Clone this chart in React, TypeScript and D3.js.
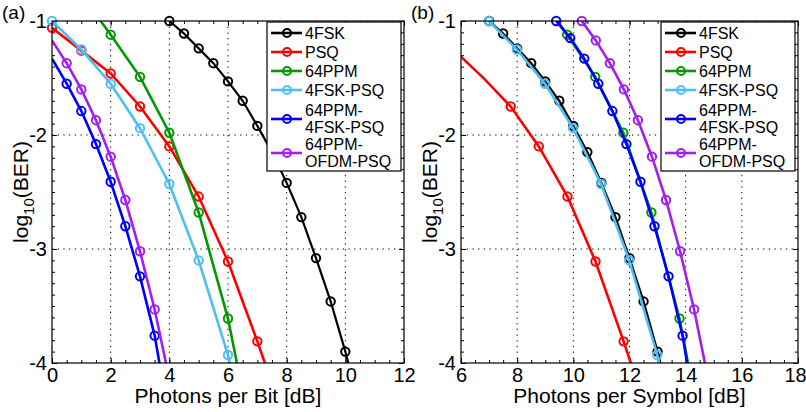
import { useEffect, useRef } from "react";
import * as d3 from "d3";

// legend / series order
const seriesNames = [
  ["4FSK"],
  ["PSQ"],
  ["64PPM"],
  ["4FSK-PSQ"],
  ["64PPM-", "4FSK-PSQ"],
  ["64PPM-", "OFDM-PSQ"],
];
const seriesColors = ["#000000", "#ff0000", "#009900", "#4dbff5", "#0000ff", "#a020f0"];

// (a) photons per bit [dB]
const bitFskX = [4, 4.5, 5, 5.5, 6, 6.5, 7, 7.5, 8, 8.5, 9, 9.5, 10, 10.5];
const bitFskY = [-1.0, -1.11, -1.24, -1.37, -1.53, -1.7, -1.92, -2.15, -2.42, -2.72, -3.08, -3.46, -3.9, -4.4];
const bitPsqX = [0, 1, 2, 3, 4, 5, 6, 7, 8];
const bitPsqY = [-1.06, -1.26, -1.46, -1.75, -2.1, -2.54, -3.11, -3.81, -4.55];
const bitPpmX = [1, 2, 3, 4, 5, 6, 7];
const bitPpmY = [-0.77, -1.12, -1.49, -1.98, -2.68, -3.61, -4.9];
const bitFskPsqX = [0, 1, 2, 3, 4, 5, 6, 7];
const bitFskPsqY = [-1.0, -1.25, -1.55, -1.94, -2.43, -3.1, -3.93, -5.0];
const bitPpmFskX = [0, 0.5, 1, 1.5, 2, 2.5, 3, 3.5, 4];
const bitPpmFskY = [-1.33, -1.55, -1.79, -2.08, -2.41, -2.8, -3.24, -3.76, -4.5];
const bitPpmOfdmX = [0, 0.5, 1, 1.5, 2, 2.5, 3, 3.5, 4];
const bitPpmOfdmY = [-1.17, -1.37, -1.6, -1.87, -2.19, -2.57, -3.02, -3.53, -4.14];

// (b) photons per symbol [dB]
const symFskX = [7, 7.5, 8, 8.5, 9, 9.5, 10, 10.5, 11, 11.5, 12, 12.5, 13, 13.5];
const symFskY = [-1.0, -1.11, -1.24, -1.37, -1.53, -1.7, -1.92, -2.15, -2.42, -2.72, -3.08, -3.46, -3.9, -4.4];
const symPsqX = [5.77, 6.84, 7.77, 8.77, 9.79, 10.79, 11.79, 12.79];
const symPsqY = [-1.26, -1.51, -1.75, -2.1, -2.54, -3.11, -3.81, -4.55];
const symPpmX = [8.78, 9.78, 10.78, 11.78, 12.78, 13.78, 14.78];
const symPpmY = [-0.77, -1.12, -1.49, -1.98, -2.68, -3.61, -4.9];
const symFskPsqX = [6.99, 7.99, 8.99, 9.99, 10.99, 11.99, 12.99, 13.99];
const symFskPsqY = [-1.0, -1.25, -1.55, -1.94, -2.43, -3.1, -3.93, -5.0];
const symPpmFskX = [9.39, 9.89, 10.39, 10.89, 11.39, 11.89, 12.39, 12.89, 13.39, 13.89, 14.39];
const symPpmFskY = [-1.0, -1.15, -1.33, -1.55, -1.79, -2.08, -2.41, -2.8, -3.24, -3.76, -4.5];
const symPpmOfdmX = [10.3, 10.8, 11.3, 11.8, 12.3, 12.8, 13.3, 13.8, 14.3, 14.8];
const symPpmOfdmY = [-1.0, -1.17, -1.37, -1.6, -1.87, -2.19, -2.57, -3.02, -3.53, -4.14];

// points drawn without a circle
const bitNoMark = [[], [], [], [], [0], [0]];
const symNoMark = [[], [6.84], [], [], [], []];

const yTickValues = [-4, -3, -2, -1];
const FONT = "'Liberation Sans', Arial, Helvetica, sans-serif";

type Panel = {
  tag: string;
  left: number;
  right: number;
  xDomain: [number, number];
  xs: number[][];
  ys: number[][];
  noMark: number[][];
  xLabel: string;
};

const TOP = 21;
const BOTTOM = 363;

function drawPanel(svg: d3.Selection<SVGSVGElement, unknown, null, undefined>, p: Panel, idx: number) {
  const x = d3.scaleLinear().domain(p.xDomain).range([p.left, p.right]);
  const y = d3.scaleLinear().domain([-4, -1]).range([BOTTOM, TOP]);
  const g = svg.append("g").attr("font-family", FONT);

  const xMajor = d3.range(p.xDomain[0], p.xDomain[1] + 0.01, 2);
  const xMinor = d3.range(p.xDomain[0], p.xDomain[1] + 0.01, 0.5);
  const yMinor = d3.range(-4, -0.99, 0.1).map((v) => Math.round(v * 10) / 10);

  // dotted grid
  g.selectAll(".gx")
    .data(xMajor.slice(1, -1))
    .join("line")
    .attr("x1", (d) => x(d))
    .attr("x2", (d) => x(d))
    .attr("y1", TOP)
    .attr("y2", BOTTOM)
    .attr("stroke", "#000")
    .attr("stroke-width", 1)
    .attr("stroke-dasharray", "1.3,4.4");
  g.selectAll(".gy")
    .data(yTickValues.slice(1, -1))
    .join("line")
    .attr("x1", p.left)
    .attr("x2", p.right)
    .attr("y1", (d) => y(d))
    .attr("y2", (d) => y(d))
    .attr("stroke", "#000")
    .attr("stroke-width", 1)
    .attr("stroke-dasharray", "1.3,4.4");

  // minor ticks, all four sides
  const minor = (axis: any, tr: string) =>
    g.append("g").attr("transform", tr).call(axis).call((a) => a.select(".domain").remove());
  minor(d3.axisBottom(x).tickValues(xMinor).tickSize(-3).tickFormat(() => ""), `translate(0,${BOTTOM})`);
  minor(d3.axisTop(x).tickValues(xMinor).tickSize(-3).tickFormat(() => ""), `translate(0,${TOP})`);
  minor(d3.axisLeft(y).tickValues(yMinor).tickSize(-3).tickFormat(() => ""), `translate(${p.left},0)`);
  minor(d3.axisRight(y).tickValues(yMinor).tickSize(-3).tickFormat(() => ""), `translate(${p.right},0)`);
  minor(d3.axisTop(x).tickValues(xMajor).tickSize(-5).tickFormat(() => ""), `translate(0,${TOP})`);
  minor(d3.axisRight(y).tickValues(yTickValues).tickSize(-5).tickFormat(() => ""), `translate(${p.right},0)`);

  // labelled axes
  const xa = g
    .append("g")
    .attr("transform", `translate(0,${BOTTOM})`)
    .call(d3.axisBottom(x).tickValues(xMajor).tickSize(-5).tickPadding(5).tickFormat((d) => String(d)));
  xa.select(".domain").remove();
  xa.selectAll("text").attr("font-size", 20).attr("font-family", FONT).attr("fill", "#000");
  // keep the last label inside the page
  xa.selectAll<SVGTextElement, number>("text")
    .filter((d) => d === p.xDomain[1])
    .attr("dx", idx === 1 ? -3 : 0);

  const ya = g
    .append("g")
    .attr("transform", `translate(${p.left},0)`)
    .call(d3.axisLeft(y).tickValues(yTickValues).tickSize(-5).tickPadding(5).tickFormat((d) => String(d)));
  ya.select(".domain").remove();
  ya.selectAll("text").attr("font-size", 20).attr("font-family", FONT).attr("fill", "#000");
  g.selectAll(".tick line").attr("stroke", "#000");

  // curves
  const clipId = `clip${idx}`;
  svg
    .append("clipPath")
    .attr("id", clipId)
    .append("rect")
    .attr("x", p.left)
    .attr("y", TOP)
    .attr("width", p.right - p.left)
    .attr("height", BOTTOM - TOP);

  const line = d3
    .line<[number, number]>()
    .x((d) => x(d[0]))
    .y((d) => y(d[1]));

  p.xs.forEach((xs, i) => {
    const pts = xs.map((v, j) => [v, p.ys[i][j]] as [number, number]);
    g.append("path")
      .attr("clip-path", `url(#${clipId})`)
      .attr("d", line(pts))
      .attr("fill", "none")
      .attr("stroke", seriesColors[i])
      .attr("stroke-width", i === 0 ? 2.2 : 2.6);
    const inside = pts.filter(
      (d) =>
        d[0] >= p.xDomain[0] - 1e-6 &&
        d[0] <= p.xDomain[1] + 1e-6 &&
        d[1] >= -4 - 1e-6 &&
        d[1] <= -1 + 1e-6 &&
        !p.noMark[i].includes(d[0])
    );
    g.selectAll(`.m${i}`)
      .data(inside)
      .join("circle")
      .attr("cx", (d) => x(d[0]))
      .attr("cy", (d) => y(d[1]))
      .attr("r", 4.2)
      .attr("fill", "none")
      .attr("stroke", seriesColors[i])
      .attr("stroke-width", 2);
  });

  // axes box
  g.append("rect")
    .attr("x", p.left)
    .attr("y", TOP)
    .attr("width", p.right - p.left)
    .attr("height", BOTTOM - TOP)
    .attr("fill", "none")
    .attr("stroke", "#000")
    .attr("stroke-width", 1.2);

  // legend
  const lx = p.right - 137;
  const ly = TOP + 1;
  const lg = g.append("g").attr("transform", `translate(${lx},${ly})`);
  lg.append("rect")
    .attr("width", 134)
    .attr("height", 149)
    .attr("fill", "#fff")
    .attr("stroke", "#000")
    .attr("stroke-width", 1.2);
  const rowY = [11, 30, 49, 68, 97, 131];
  const lineGap = 16.5;
  seriesNames.forEach((lines, i) => {
    const ry = rowY[i];
    lg.append("line")
      .attr("x1", 4)
      .attr("x2", 35)
      .attr("y1", ry)
      .attr("y2", ry)
      .attr("stroke", seriesColors[i])
      .attr("stroke-width", 2.6);
    lg.append("circle")
      .attr("cx", 20)
      .attr("cy", ry)
      .attr("r", 4)
      .attr("fill", "none")
      .attr("stroke", seriesColors[i])
      .attr("stroke-width", 2);
    lines.forEach((s, k) => {
      lg.append("text")
        .attr("x", 38)
        .attr("y", ry + (k - (lines.length - 1) / 2) * lineGap)
        .attr("font-size", 16)
        .attr("dominant-baseline", "central")
        .text(s);
    });
  });

  // axis labels
  g.append("text")
    .attr("x", (p.left + p.right) / 2)
    .attr("y", 403)
    .attr("text-anchor", "middle")
    .attr("font-size", 21)
    .text(p.xLabel);

  const yl = g
    .append("text")
    .attr("transform", `translate(${p.left - 24},${(TOP + BOTTOM) / 2}) rotate(-90)`)
    .attr("text-anchor", "middle")
    .attr("font-size", 21);
  yl.append("tspan").text("log");
  yl.append("tspan").attr("font-size", 15).attr("dy", 6).text("10");
  yl.append("tspan").attr("dy", -6).text("(BER)");

  g.append("text")
    .attr("x", p.left - 50)
    .attr("y", 19)
    .attr("font-size", 19)
    .text(p.tag);
}

function renderChart(el: SVGSVGElement) {
  const svg = d3.select(el);
  svg.selectAll("*").remove();
  drawPanel(
    svg,
    {
      tag: "(a)",
      left: 52,
      right: 404,
      xDomain: [0, 12],
      xs: [bitFskX, bitPsqX, bitPpmX, bitFskPsqX, bitPpmFskX, bitPpmOfdmX],
      ys: [bitFskY, bitPsqY, bitPpmY, bitFskPsqY, bitPpmFskY, bitPpmOfdmY],
      noMark: bitNoMark,
      xLabel: "Photons per Bit [dB]",
    },
    0
  );
  drawPanel(
    svg,
    {
      tag: "(b)",
      left: 461,
      right: 798,
      xDomain: [6, 18],
      xs: [symFskX, symPsqX, symPpmX, symFskPsqX, symPpmFskX, symPpmOfdmX],
      ys: [symFskY, symPsqY, symPpmY, symFskPsqY, symPpmFskY, symPpmOfdmY],
      noMark: symNoMark,
      xLabel: "Photons per Symbol [dB]",
    },
    1
  );
}

export default function App() {
  const ref = useRef<SVGSVGElement>(null);
  useEffect(() => {
    if (ref.current) renderChart(ref.current);
  }, []);
  return (
    <svg
      ref={ref}
      width={806}
      height={412}
      style={{ position: "absolute", left: 0, top: 0, background: "#fff" }}
    />
  );
}
